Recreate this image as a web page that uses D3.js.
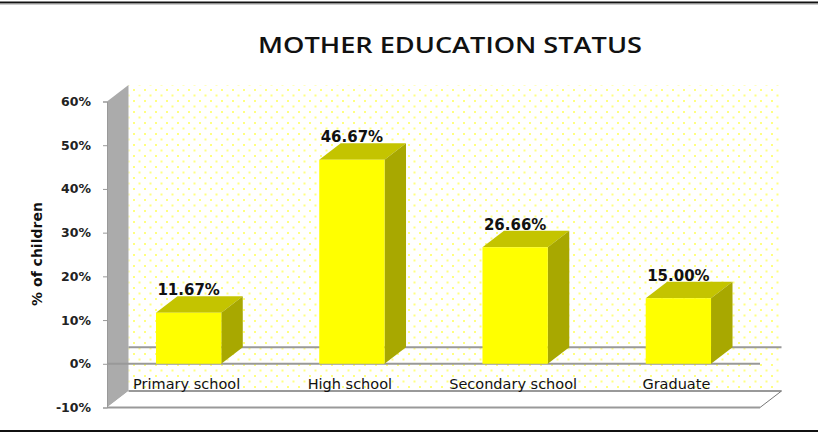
<!DOCTYPE html>
<html>
<head>
<meta charset="utf-8">
<script src="https://cdn.jsdelivr.net/npm/d3@7"></script>
<style>
  html, body { margin: 0; padding: 0; background: #fff; }
  svg { display: block; }
</style>
</head>
<body>
<div id="chart"></div>
<script>
const categories = ['Primary school', 'High school', 'Secondary school', 'Graduate'];
const values = [11.67, 46.67, 26.66, 15.00];
const valueLabels = ['11.67%', '46.67%', '26.66%', '15.00%'];
const yTicks = [-10, 0, 10, 20, 30, 40, 50, 60];

const W = 818, H = 432;
const depthX = 21.5, depthY = -16.5;

const svg = d3.select('#chart').append('svg')
    .attr('width', W)
    .attr('height', H);

const x = d3.scaleBand().domain(categories).range([107, 760])
    .paddingInner(0.6).paddingOuter(0.3);
const y = d3.scaleLinear().domain([-10, 60]).range([407.5, 101.5]);

// dotted fill of the back wall
const defs = svg.append('defs');
const pat = defs.append('pattern')
    .attr('id', 'dots')
    .attr('patternUnits', 'userSpaceOnUse')
    .attr('width', 11).attr('height', 11);
pat.append('rect').attr('x', 1).attr('y', 1).attr('width', 2).attr('height', 2).attr('fill', '#ffff80');
pat.append('rect').attr('x', 6.5).attr('y', 6.5).attr('width', 2).attr('height', 2).attr('fill', '#ffff80');

// frame lines top and bottom
svg.append('rect').attr('x', 0).attr('y', 1.5).attr('width', W).attr('height', 2).attr('fill', '#111');
svg.append('rect').attr('x', 0).attr('y', 3.5).attr('width', W).attr('height', 1).attr('fill', '#999');
svg.append('rect').attr('x', 0).attr('y', 430).attr('width', W).attr('height', 2).attr('fill', '#111');

svg.append('text')
    .attr('x', 450)
    .attr('y', 53)
    .attr('text-anchor', 'middle')
    .attr('textLength', 384)
    .attr('lengthAdjust', 'spacingAndGlyphs')
    .style('font-family', '"Open Sans", sans-serif')
    .style('font-weight', '600')
    .style('font-size', '21px')
    .style('fill', '#111')
    .text('MOTHER EDUCATION STATUS');

const x0 = x.range()[0], x1 = x.range()[1];
const yTop = y(60), yBot = y(-10), yZero = y(0);

// back wall
svg.append('rect')
    .attr('x', x0 + depthX).attr('y', yTop + depthY)
    .attr('width', x1 - x0).attr('height', yBot - yTop)
    .attr('fill', 'url(#dots)');

// side wall
const pts = p => p.map(d => d.join(',')).join(' ');
svg.append('polygon')
    .attr('points', pts([[x0, yTop], [x0 + depthX, yTop + depthY], [x0 + depthX, yBot + depthY], [x0, yBot]]))
    .attr('fill', '#ababab');

// floor
svg.append('polygon')
    .attr('points', pts([[x0, yBot], [x0 + depthX, yBot + depthY], [x1 + depthX, yBot + depthY], [x1, yBot]]))
    .attr('fill', '#fff');
svg.append('line')
    .attr('x1', x0 + depthX).attr('x2', x1 + depthX)
    .attr('y1', yBot + depthY).attr('y2', yBot + depthY)
    .attr('stroke', '#999').attr('stroke-width', 2);
svg.append('line')
    .attr('x1', x0).attr('x2', x1)
    .attr('y1', yBot).attr('y2', yBot)
    .attr('stroke', '#999').attr('stroke-width', 2);
svg.append('line')
    .attr('x1', x1).attr('x2', x1 + depthX)
    .attr('y1', yBot).attr('y2', yBot + depthY)
    .attr('stroke', '#777').attr('stroke-width', 1);

// zero plane lines
svg.append('line')
    .attr('x1', x0 + depthX).attr('x2', x1 + depthX)
    .attr('y1', yZero + depthY).attr('y2', yZero + depthY)
    .attr('stroke', '#999').attr('stroke-width', 2);
svg.append('line')
    .attr('x1', x0).attr('x2', x1)
    .attr('y1', yZero).attr('y2', yZero)
    .attr('stroke', '#999').attr('stroke-width', 2);

// y axis
const yAxis = d3.axisLeft(y)
    .tickValues(yTicks)
    .tickSize(4)
    .tickPadding(12)
    .tickFormat(d => d + '%');
const gy = svg.append('g')
    .attr('transform', `translate(${x0},0)`)
    .call(yAxis);
gy.select('.domain').attr('stroke', '#999');
gy.selectAll('.tick line').attr('stroke', '#999');
gy.selectAll('.tick text')
    .style('font-family', '"DejaVu Sans", sans-serif')
    .style('font-weight', 'bold')
    .style('font-size', '12.5px')
    .style('fill', '#222');

svg.append('text')
    .attr('transform', 'translate(42,254) rotate(-90)')
    .attr('text-anchor', 'middle')
    .style('font-family', '"DejaVu Sans", sans-serif')
    .style('font-weight', 'bold')
    .style('font-size', '14px')
    .style('fill', '#111')
    .text('% of children');

// bars
const bars = svg.selectAll('.bar')
    .data(categories.map((c, i) => ({ c, v: values[i], label: valueLabels[i] })))
    .enter().append('g')
    .attr('class', 'bar');

const bw = x.bandwidth();

bars.append('polygon')
    .attr('points', d => {
        const bx = x(d.c), by = y(d.v);
        return pts([[bx, by], [bx + depthX, by + depthY], [bx + bw + depthX, by + depthY], [bx + bw, by]]);
    })
    .attr('fill', '#c4c400');

bars.append('polygon')
    .attr('points', d => {
        const bx = x(d.c) + bw, by = y(d.v);
        return pts([[bx, by], [bx + depthX, by + depthY], [bx + depthX, yZero + depthY], [bx, yZero]]);
    })
    .attr('fill', '#a8a800');

bars.append('rect')
    .attr('x', d => x(d.c))
    .attr('y', d => y(d.v))
    .attr('width', bw)
    .attr('height', d => yZero - y(d.v))
    .attr('fill', '#ffff00');

bars.append('text')
    .attr('x', d => x(d.c) + bw / 2)
    .attr('y', d => y(d.v) + depthY - 1)
    .attr('text-anchor', 'middle')
    .style('font-family', '"DejaVu Sans", sans-serif')
    .style('font-weight', 'bold')
    .style('font-size', '15px')
    .style('fill', '#111')
    .text(d => d.label);

// category labels on the floor
svg.selectAll('.cat')
    .data(categories)
    .enter().append('text')
    .attr('class', 'cat')
    .attr('x', d => x(d) + bw / 2 - 2)
    .attr('y', 389)
    .attr('text-anchor', 'middle')
    .style('font-family', '"DejaVu Sans", sans-serif')
    .style('font-size', '14.5px')
    .style('fill', '#111')
    .text(d => d);
</script>
</body>
</html>
